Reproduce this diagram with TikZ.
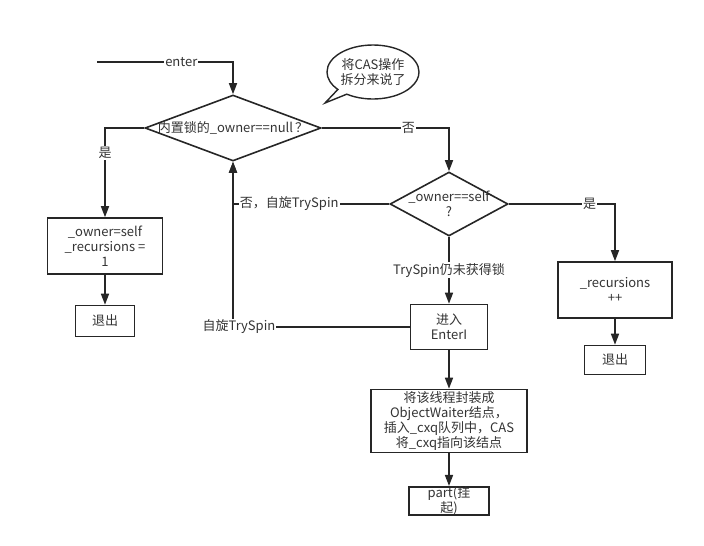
\documentclass[tikz,border=0pt]{standalone}
\usepackage{fontspec}
\setmainfont{Noto Sans CJK SC}
\usetikzlibrary{shapes.geometric,shapes.callouts,arrows.meta}

\tikzset{
  line/.style={line width=1.6pt, draw=black!85},
  arr/.style={line, -{Triangle[length=11pt,width=8pt]}},
  stepbox/.style={draw=black!85, line width=1.6pt, rectangle, inner sep=0pt,
    align=center, font=\fontsize{13}{15}\selectfont, text=black!80},
  decision/.style={draw=black!85, line width=1.6pt, diamond, inner sep=0pt},
  txt/.style={font=\fontsize{13}{15}\selectfont, text=black!80, align=center, inner sep=0pt},
  lbl/.style={txt, fill=white, inner sep=1pt},
}

\begin{document}
\begin{tikzpicture}[x=1pt, y=-1pt]
  \useasboundingbox (0,0) rectangle (704,546);

  % decisions
  \node[decision, minimum width=176pt, minimum height=66pt] (d1) at (233,128) {};
  \node[txt] (d1text) at (d1) {内置锁的\_owner==null\,？};
  \node[decision, minimum width=118pt, minimum height=64pt] (d2) at (449,204) {};
  \node[txt] (d2text) at (d2) {\_owner==self\\?};

  % boxes
  \node[stepbox, minimum width=115pt, minimum height=56pt] (own) at (105,246)
    {\_owner=self\\\_recursions =\\1};
  \node[stepbox, minimum width=59pt, minimum height=31pt] (exit1) at (105,321) {退出};
  \node[stepbox, minimum width=114pt, minimum height=56pt] (rec) at (615,290)
    {\_recursions\\++};
  \node[stepbox, minimum width=61pt, minimum height=29pt] (exit2) at (615,360) {退出};
  \node[stepbox, minimum width=77pt, minimum height=45pt] (enterI) at (449,327)
    {进入\\EnterI};
  \node[stepbox, minimum width=156pt, minimum height=63pt] (wrap) at (449,421)
    {将该线程封装成\\ObjectWaiter结点，\\插入\_cxq队列中，CAS\\将\_cxq指向该结点};
  \node[stepbox, minimum width=80pt, minimum height=28pt] (park) at (449,501)
    {part(挂\\起)};

  % comment bubble
  \node[ellipse callout, draw=black!85, line width=1.4pt, minimum width=92pt,
    minimum height=54pt, inner sep=0pt, txt, callout absolute pointer={(325,103)}]
    (note) at (373,72) {将CAS操作\\拆分来说了};

  % connectors
  \coordinate (start) at (97,62);
  \draw[arr] (start) -| node[lbl, pos=0.31] {enter} (d1.north);
  \draw[arr] (d1.west) -| node[lbl, pos=0.64] {是} (own.north);
  \draw[arr] (own) -- (exit1);
  \draw[arr] (d1.east) -| node[lbl, pos=0.34] {否} (d2.north);
  \draw[arr] (d2.west) -| node[lbl, pos=0.32] {否，自旋TrySpin} (d1.south);
  \draw[arr] (d2.east) -| node[lbl, pos=0.38] {是} (rec.north);
  \draw[arr] (rec) -- (exit2);
  \draw[arr] (d2.south) -- node[lbl] {TrySpin仍未获得锁} (enterI.north);
  \draw[arr] (enterI.west) -| node[lbl, pos=0.5, xshift=6pt] {自旋TrySpin} (d1.south);
  \draw[arr] (enterI) -- (wrap);
  \draw[arr] (wrap) -- (park);
\end{tikzpicture}
\end{document}
